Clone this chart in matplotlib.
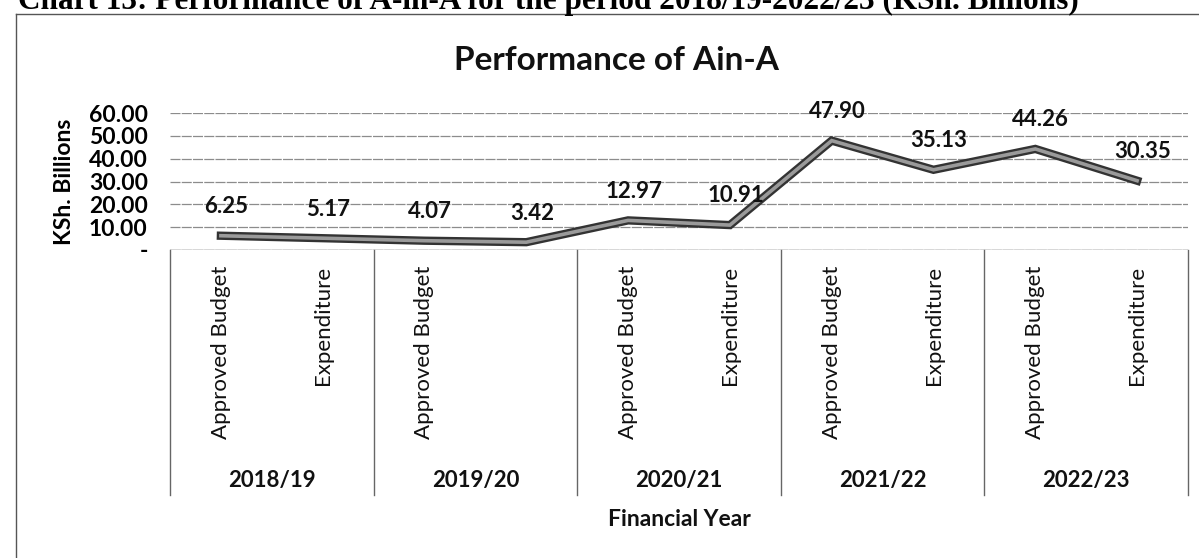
import matplotlib
matplotlib.use("Agg")
import matplotlib.pyplot as plt
import matplotlib.patheffects as pe
from matplotlib.transforms import blended_transform_factory
from matplotlib.lines import Line2D

caption = "Chart 13: Performance of A-in-A for the period 2018/19-2022/23 (KSh. Billions)"
title = "Performance of Ain-A"
years = ["2018/19", "2019/20", "2020/21", "2021/22", "2022/23"]
categories = ["Approved Budget", "Expenditure", "Approved Budget", "",
              "Approved Budget", "Expenditure", "Approved Budget", "Expenditure",
              "Approved Budget", "Expenditure"]
values = [6.25, 5.17, 4.07, 3.42, 12.97, 10.91, 47.90, 35.13, 44.26, 30.35]
yticks = [0, 10, 20, 30, 40, 50, 60]
ytick_labels = ["-", "10.00", "20.00", "30.00", "40.00", "50.00", "60.00"]

plt.rcParams["font.family"] = ["Lato", "DejaVu Sans"]

W, H = 1199, 558
fig = plt.figure(figsize=(W / 100, H / 100), dpi=100)


def fx(px):
    return px / W


def fy(py):
    return 1 - py / H


# outer frame of the chart (scan shows left and top edges)
fig.add_artist(Line2D([fx(16), fx(16)], [fy(14), 0], color="#555", lw=1.0))
fig.add_artist(Line2D([fx(16), 1], [fy(14), fy(14)], color="#555", lw=1.0))

# caption from the page, cut by the top edge
fig.text(fx(18), fy(9), caption, family="Liberation Serif", weight="bold",
         fontsize=22.5, va="baseline", ha="left")

fig.text(fx(616), fy(60), title, fontsize=24, weight="bold", ha="center", va="center",
         color="#111")

left, right, top, bottom = 170, 1188, 113, 250
ax = fig.add_axes([fx(left), fy(bottom), (right - left) / W, (bottom - top) / H])
x = list(range(len(values)))
ax.set_xlim(-0.5, len(values) - 0.5)
ax.set_ylim(0, 60)

for s in ax.spines.values():
    s.set_visible(False)
ax.set_yticks(yticks)
ax.set_yticklabels(ytick_labels, fontsize=16.5, weight="bold")
ax.tick_params(axis="y", length=0, pad=16)
ax.set_xticks([])
ax.grid(axis="y", color="#8c8c8c", lw=0.9, linestyle=(0, (8, 1)))
ax.set_axisbelow(True)
ax.axhline(0, color="#777", lw=1.0)
ax.set_ylabel("KSh. Billions", fontsize=16.5, weight="bold", labelpad=10)

ax.plot(x, values, color="#9a9a9a", lw=2.6, solid_joinstyle="miter",
        path_effects=[pe.Stroke(linewidth=6, foreground="#333"), pe.Normal()])

for xi, v in zip(x, values):
    ax.annotate(f"{v:.2f}", (xi, v), xytext=(4, 21), textcoords="offset points",
                ha="center", va="center", fontsize=16, weight="bold", color="#111")

# multi-level category axis
tr = blended_transform_factory(ax.transData, fig.transFigure)
for xi, lab in zip(x, categories):
    ax.text(xi, fy(266), lab, transform=tr, rotation=90, ha="center", va="top",
            fontsize=16, color="#111")
for i, yr in enumerate(years):
    ax.text(2 * i + 0.5, fy(481), yr, transform=tr, ha="center", va="center",
            fontsize=16, weight="bold", color="#111")
for b in [-0.5, 1.5, 3.5, 5.5, 7.5, 9.5]:
    fig.add_artist(Line2D([b, b], [fy(bottom), fy(495)], transform=tr,
                          color="#666", lw=1.0))

fig.text(fx((left + right) / 2), fy(520), "Financial Year", fontsize=16.5,
         weight="bold", ha="center", va="center", color="#111")

fig.savefig("out.png", dpi=100)
